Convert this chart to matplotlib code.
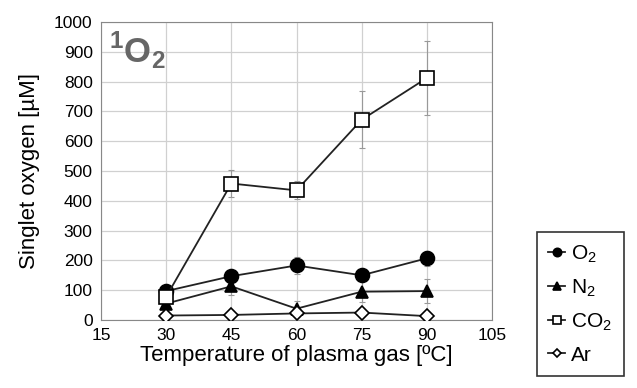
import matplotlib
matplotlib.use("Agg")
import matplotlib.pyplot as plt

plt.rcParams['font.family'] = ['Liberation Sans', 'DejaVu Sans']
plt.rcParams['mathtext.fontset'] = 'custom'
plt.rcParams['mathtext.rm'] = 'Liberation Sans'
plt.rcParams['mathtext.bf'] = 'Liberation Sans:bold'

temps = [30, 45, 60, 75, 90]
o2 = [97, 147, 183, 150, 207]
o2_err = [15, 20, 30, 20, 25]
n2 = [55, 113, 38, 95, 97]
n2_err = [15, 30, 25, 35, 40]
co2 = [78, 458, 435, 672, 812]
co2_err = [20, 45, 30, 95, 125]
ar = [15, 17, 22, 25, 13]
ar_err = [5, 5, 5, 8, 5]

series = [
    ("O$_2$", o2, o2_err, "o", "black"),
    ("N$_2$", n2, n2_err, "^", "black"),
    ("CO$_2$", co2, co2_err, "s", "white"),
    ("Ar", ar, ar_err, "D", "white"),
]
sizes = {"o": 10, "^": 9, "s": 10, "D": 7}

fig = plt.figure(figsize=(6.37, 3.88), dpi=100)
ax = fig.add_axes([101 / 637, 68 / 388, 391 / 637, 298 / 388])

for label, vals, err, mk, fc in series:
    ax.errorbar(temps, vals, yerr=err, fmt="none", ecolor="#999999",
                elinewidth=0.8, capsize=2, capthick=0.8, zorder=2)
    ax.plot(temps, vals, marker=mk, ms=sizes[mk], mfc=fc, mec="black",
            mew=1.2, color="#222222", lw=1.3, label=label, zorder=3)

ax.set_xlim(15, 105)
ax.set_ylim(0, 1000)
ax.set_xticks(range(15, 106, 15))
ax.set_yticks(range(0, 1001, 100))
ax.grid(True, color="#d0d0d0", lw=0.9)
ax.set_axisbelow(True)
for s in ax.spines.values():
    s.set_color("#888888")
ax.tick_params(length=0, labelsize=12.5, pad=6)
ax.set_xlabel("Temperature of plasma gas [ºC]", fontsize=16, labelpad=1)
ax.set_ylabel("Singlet oxygen [µM]", fontsize=16, labelpad=10)

ax.text(0.02, 0.975, "$^{\\mathbf{1}}$O$_{\\mathbf{2}}$", transform=ax.transAxes,
        fontsize=25, fontweight="bold", color="#666666", va="top", ha="left")

leg = fig.legend(loc="upper left", bbox_to_anchor=(537 / 637, 1 - 232 / 388),
                 fontsize=15, frameon=True, fancybox=False, edgecolor="black",
                 handlelength=0.8, handletextpad=0.3, labelspacing=0.6,
                 borderpad=0.55, borderaxespad=0, markerscale=0.6)
leg.get_frame().set_linewidth(1.2)

fig.savefig("out.png", dpi=100)
